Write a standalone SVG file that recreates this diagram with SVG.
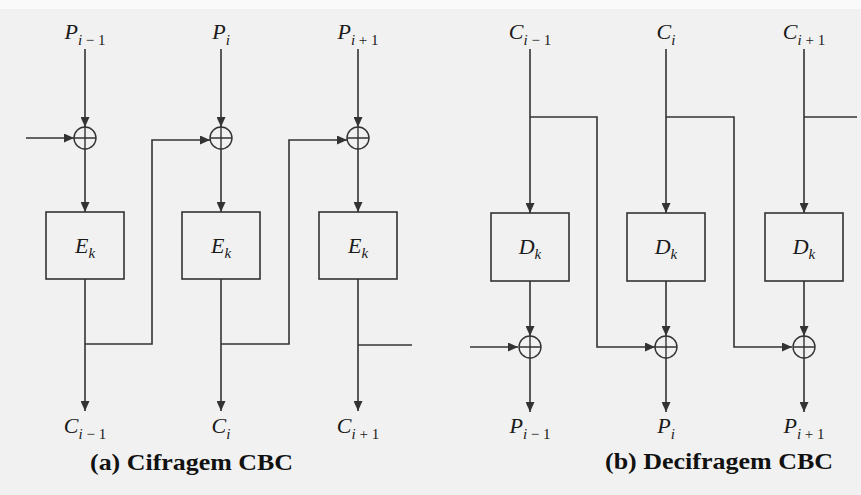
<svg xmlns="http://www.w3.org/2000/svg" width="861" height="495" viewBox="0 0 861 495">
<defs>
<marker id="ah" markerWidth="10" markerHeight="9" refX="10" refY="4.5" orient="auto" markerUnits="userSpaceOnUse"><path d="M0,0 L10,4.5 L0,9 Z" fill="#333"/></marker>
<style>
.ln{fill:none;stroke:#333;stroke-width:1.6}
.ar{fill:none;stroke:#333;stroke-width:1.6;marker-end:url(#ah)}
.bx{fill:none;stroke:#333;stroke-width:1.6}
.xo{fill:none;stroke:#333;stroke-width:1.4}
.lb{font-family:"Liberation Serif","Times New Roman",serif;font-style:italic;font-size:22px;fill:#1a1a1a;text-anchor:middle}
.sb{font-size:15px}
.rm{font-style:normal}
.cap{font-family:"Liberation Serif","Times New Roman",serif;font-weight:bold;font-size:23px;fill:#111}
</style>
</defs>
<rect x="0" y="0" width="861" height="495" fill="#f1f1f1"/>
<rect x="0" y="0" width="861" height="9" fill="#fafafa"/>

<g id="connectors">
<line class="ar" x1="85" y1="49" x2="85" y2="127"/>
<line class="ar" x1="221" y1="49" x2="221" y2="127"/>
<line class="ar" x1="358" y1="49" x2="358" y2="127"/>
<line class="ar" x1="26" y1="138" x2="74" y2="138"/>
<line class="ar" x1="85" y1="149" x2="85" y2="212"/>
<line class="ar" x1="221" y1="149" x2="221" y2="212"/>
<line class="ar" x1="358" y1="149" x2="358" y2="212"/>
<line class="ar" x1="85" y1="279" x2="85" y2="411"/>
<line class="ar" x1="221" y1="279" x2="221" y2="411"/>
<line class="ar" x1="358" y1="279" x2="358" y2="411"/>
<polyline class="ar" points="85,344 152,344 152,140 210,140"/>
<polyline class="ar" points="221,344 289,344 289,140 347,140"/>
<line class="ln" x1="358" y1="345" x2="412" y2="345"/>
<line class="ar" x1="530" y1="49" x2="530" y2="213"/>
<line class="ar" x1="666" y1="49" x2="666" y2="213"/>
<line class="ar" x1="804" y1="49" x2="804" y2="213"/>
<polyline class="ar" points="530,117 597,117 597,347 655,347"/>
<polyline class="ar" points="666,117 734,117 734,347 792,347"/>
<line class="ln" x1="804" y1="117" x2="857" y2="117"/>
<line class="ar" x1="470" y1="347" x2="518" y2="347"/>
<line class="ar" x1="530" y1="281" x2="530" y2="336"/>
<line class="ar" x1="666" y1="281" x2="666" y2="336"/>
<line class="ar" x1="804" y1="281" x2="804" y2="336"/>
<line class="ar" x1="530" y1="358" x2="530" y2="412"/>
<line class="ar" x1="666" y1="358" x2="666" y2="412"/>
<line class="ar" x1="804" y1="358" x2="804" y2="412"/>
</g>

<g id="enc-xor1"><circle class="xo" cx="85" cy="138" r="11"/><path class="xo" d="M74,138H96M85,127V149"/></g>
<g id="enc-xor2"><circle class="xo" cx="221" cy="138" r="11"/><path class="xo" d="M210,138H232M221,127V149"/></g>
<g id="enc-xor3"><circle class="xo" cx="358" cy="138" r="11"/><path class="xo" d="M347,138H369M358,127V149"/></g>

<g id="enc-e1"><rect class="bx" x="46" y="212" width="78" height="67"/><text class="lb" x="85" y="253">E<tspan class="sb" dy="5">k</tspan></text></g>
<g id="enc-e2"><rect class="bx" x="182" y="212" width="78" height="67"/><text class="lb" x="221" y="253">E<tspan class="sb" dy="5">k</tspan></text></g>
<g id="enc-e3"><rect class="bx" x="319" y="212" width="78" height="67"/><text class="lb" x="358" y="253">E<tspan class="sb" dy="5">k</tspan></text></g>

<g id="enc-p1"><text class="lb" x="85" y="39">P<tspan class="sb" dy="6">i<tspan class="rm"> − 1</tspan></tspan></text></g>
<g id="enc-p2"><text class="lb" x="221" y="39">P<tspan class="sb" dy="6">i</tspan></text></g>
<g id="enc-p3"><text class="lb" x="358" y="39">P<tspan class="sb" dy="6">i<tspan class="rm"> + 1</tspan></tspan></text></g>
<g id="enc-c1"><text class="lb" x="85" y="433">C<tspan class="sb" dy="6">i<tspan class="rm"> − 1</tspan></tspan></text></g>
<g id="enc-c2"><text class="lb" x="221" y="433">C<tspan class="sb" dy="6">i</tspan></text></g>
<g id="enc-c3"><text class="lb" x="358" y="433">C<tspan class="sb" dy="6">i<tspan class="rm"> + 1</tspan></tspan></text></g>

<g id="dec-d1"><rect class="bx" x="491" y="213" width="78" height="68"/><text class="lb" x="530" y="254">D<tspan class="sb" dy="5">k</tspan></text></g>
<g id="dec-d2"><rect class="bx" x="627" y="213" width="78" height="68"/><text class="lb" x="666" y="254">D<tspan class="sb" dy="5">k</tspan></text></g>
<g id="dec-d3"><rect class="bx" x="765" y="213" width="78" height="68"/><text class="lb" x="804" y="254">D<tspan class="sb" dy="5">k</tspan></text></g>

<g id="dec-xor1"><circle class="xo" cx="530" cy="347" r="11"/><path class="xo" d="M519,347H541M530,336V358"/></g>
<g id="dec-xor2"><circle class="xo" cx="666" cy="347" r="11"/><path class="xo" d="M655,347H677M666,336V358"/></g>
<g id="dec-xor3"><circle class="xo" cx="804" cy="347" r="11"/><path class="xo" d="M793,347H815M804,336V358"/></g>

<g id="dec-c1"><text class="lb" x="530" y="39">C<tspan class="sb" dy="6">i<tspan class="rm"> − 1</tspan></tspan></text></g>
<g id="dec-c2"><text class="lb" x="666" y="39">C<tspan class="sb" dy="6">i</tspan></text></g>
<g id="dec-c3"><text class="lb" x="804" y="39">C<tspan class="sb" dy="6">i<tspan class="rm"> + 1</tspan></tspan></text></g>
<g id="dec-p1"><text class="lb" x="530" y="433">P<tspan class="sb" dy="6">i<tspan class="rm"> − 1</tspan></tspan></text></g>
<g id="dec-p2"><text class="lb" x="666" y="433">P<tspan class="sb" dy="6">i</tspan></text></g>
<g id="dec-p3"><text class="lb" x="804" y="433">P<tspan class="sb" dy="6">i<tspan class="rm"> + 1</tspan></tspan></text></g>

<g id="caption-a"><text class="cap" x="90" y="470" textLength="203" lengthAdjust="spacingAndGlyphs">(a) Cifragem CBC</text></g>
<g id="caption-b"><text class="cap" x="605" y="469" textLength="228" lengthAdjust="spacingAndGlyphs">(b) Decifragem CBC</text></g>
</svg>
